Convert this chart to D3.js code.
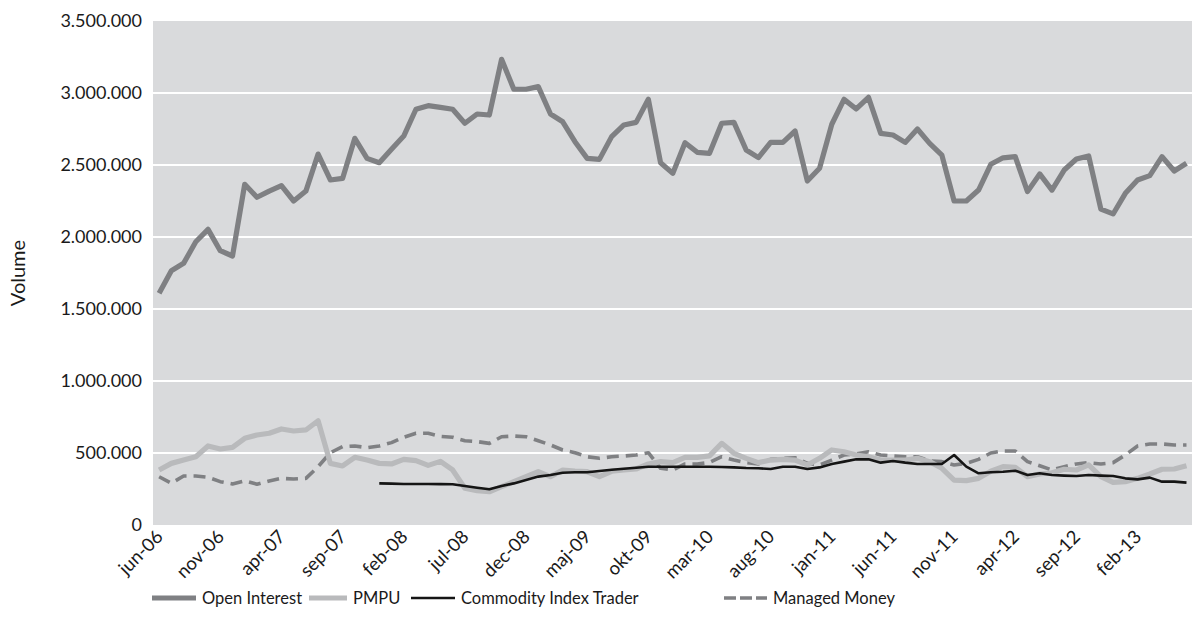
<!DOCTYPE html>
<html>
<head>
<meta charset="utf-8">
<script src="https://cdn.jsdelivr.net/npm/d3@7/dist/d3.min.js"></script>
<style>
  html, body { margin: 0; padding: 0; background: #ffffff; }
  svg { display: block; }
  text { font-family: Lato, "Open Sans", sans-serif; fill: #1a1a1a; }
</style>
</head>
<body>
<svg id="chart" width="1192" height="636"></svg>
<script>
// Monthly categories, jun-06 .. jun-13
const months = [
  "jun-06","jul-06","aug-06","sep-06","okt-06","nov-06","dec-06",
  "jan-07","feb-07","mar-07","apr-07","maj-07","jun-07","jul-07","aug-07","sep-07","okt-07","nov-07","dec-07",
  "jan-08","feb-08","mar-08","apr-08","maj-08","jun-08","jul-08","aug-08","sep-08","okt-08","nov-08","dec-08",
  "jan-09","feb-09","mar-09","apr-09","maj-09","jun-09","jul-09","aug-09","sep-09","okt-09","nov-09","dec-09",
  "jan-10","feb-10","mar-10","apr-10","maj-10","jun-10","jul-10","aug-10","sep-10","okt-10","nov-10","dec-10",
  "jan-11","feb-11","mar-11","apr-11","maj-11","jun-11","jul-11","aug-11","sep-11","okt-11","nov-11","dec-11",
  "jan-12","feb-12","mar-12","apr-12","maj-12","jun-12","jul-12","aug-12","sep-12","okt-12","nov-12","dec-12",
  "jan-13","feb-13","mar-13","apr-13","maj-13","jun-13"
];

// Labelled categories on the x axis (every fifth month)
const xTickLabels = ["jun-06","nov-06","apr-07","sep-07","feb-08","jul-08","dec-08","maj-09","okt-09",
  "mar-10","aug-10","jan-11","jun-11","nov-11","apr-12","sep-12","feb-13"];

// Y axis ticks
const yTicks = [0, 500000, 1000000, 1500000, 2000000, 2500000, 3000000, 3500000];

// Series (contracts)
const openInterest = [
  1609000,1766000,1817000,1967000,2053000,1905000,1868000,2366000,2276000,2319000,
  2356000,2250000,2319000,2576000,2396000,2407000,2685000,2546000,2516000,2609000,
  2701000,2887000,2912000,2900000,2887000,2790000,2854000,2847000,3234000,3026000,
  3026000,3044000,2854000,2800000,2662000,2546000,2539000,2697000,2778000,2796000,
  2956000,2516000,2442000,2655000,2588000,2581000,2790000,2796000,2604000,2551000,
  2657000,2657000,2736000,2389000,2477000,2783000,2956000,2889000,2970000,2720000,
  2708000,2657000,2750000,2650000,2569000,2250000,2250000,2326000,2505000,2550000,
  2558000,2315000,2438000,2326000,2465000,2542000,2563000,2194000,2160000,2303000,
  2396000,2426000,2558000,2458000,2512000
];

const pmpu = [
  382000,428000,451000,474000,549000,528000,539000,602000,625000,637000,
  667000,653000,660000,724000,428000,410000,470000,451000,428000,424000,
  456000,447000,414000,442000,382000,255000,238000,231000,266000,301000,
  336000,370000,336000,382000,375000,370000,336000,373000,382000,389000,
  424000,440000,433000,470000,470000,480000,567000,498000,463000,433000,
  451000,456000,451000,417000,463000,521000,509000,486000,474000,451000,
  451000,451000,463000,440000,394000,312000,308000,324000,374000,405000,
  400000,336000,354000,363000,387000,382000,417000,336000,296000,301000,
  324000,354000,387000,389000,412000
];

const commodityIndexTrader = [
  null,null,null,null,null,null,null,null,null,null,
  null,null,null,null,null,null,null,null,289000,287000,
  285000,285000,285000,284000,283000,271000,259000,248000,271000,289000,
  312000,336000,347000,363000,366000,366000,375000,384000,391000,398000,
  405000,405000,405000,405000,405000,405000,403000,400000,396000,394000,
  389000,405000,405000,389000,400000,424000,440000,456000,456000,433000,
  444000,433000,424000,424000,424000,486000,405000,359000,366000,370000,
  377000,347000,359000,347000,343000,340000,347000,343000,340000,324000,
  317000,329000,301000,301000,294000
];

const managedMoney = [
  335000,290000,340000,340000,331000,301000,285000,306000,283000,306000,
  324000,319000,324000,405000,502000,544000,549000,537000,549000,572000,
  609000,637000,637000,615000,609000,585000,579000,567000,613000,618000,
  613000,585000,556000,521000,502000,474000,463000,474000,479000,486000,
  502000,394000,382000,424000,424000,434000,474000,451000,433000,424000,
  456000,463000,467000,428000,417000,451000,486000,493000,509000,486000,
  479000,474000,474000,446000,440000,417000,428000,456000,500000,514000,
  514000,440000,412000,382000,405000,424000,433000,424000,433000,486000,
  549000,563000,563000,556000,556000
];

const seriesNames = ["Open Interest", "PMPU", "Commodity Index Trader", "Managed Money"];

const svg = d3.select("#chart");
const plot = { left: 153, top: 21, right: 1192.6, bottom: 525 };

const x = d3.scaleBand().domain(months).range([plot.left, plot.right]).paddingInner(0).paddingOuter(0);
const xc = m => x(m) + x.bandwidth() / 2;
const y = d3.scaleLinear().domain([0, 3500000]).range([plot.bottom, plot.top]);

const locale = d3.formatLocale({ decimal: ",", thousands: ".", grouping: [3], currency: ["", ""] });
const fmt = locale.format(",d");

// plot area
svg.append("rect")
  .attr("x", plot.left).attr("y", plot.top)
  .attr("width", plot.right - plot.left).attr("height", plot.bottom - plot.top)
  .attr("fill", "#d9dadc");

// horizontal gridlines
svg.append("g").selectAll("line")
  .data(yTicks.filter(d => d > 0 && d < 3500000))
  .join("line")
  .attr("x1", plot.left).attr("x2", plot.right)
  .attr("y1", d => y(d)).attr("y2", d => y(d))
  .attr("stroke", "#ffffff").attr("stroke-width", 2.2);

// y axis
const yAxis = svg.append("g")
  .attr("transform", `translate(${plot.left},0)`)
  .call(d3.axisLeft(y).tickValues(yTicks).tickFormat(fmt).tickSize(0).tickPadding(11));
yAxis.select(".domain").remove();
yAxis.selectAll("text").style("font-size", "18px").style("font-family", "Lato, sans-serif").attr("fill", "#1a1a1a");

// x axis
const xAxis = svg.append("g")
  .attr("transform", `translate(0,${plot.bottom})`)
  .call(d3.axisBottom(x).tickValues(xTickLabels).tickSize(0).tickPadding(0));
xAxis.select(".domain").remove();
xAxis.selectAll("text")
  .style("font-size", "18.5px").style("font-family", "Lato, sans-serif").attr("fill", "#1a1a1a")
  .attr("text-anchor", "end")
  .attr("dy", null).attr("y", 0)
  .attr("transform", "translate(5,13) rotate(-45)");

// y axis title
svg.append("text")
  .attr("transform", `translate(25,${(plot.top + plot.bottom) / 2}) rotate(-90)`)
  .attr("text-anchor", "middle")
  .style("font-size", "20px")
  .text("Volume");

// series lines
const styles = [
  { data: managedMoney, color: "#7f8083", width: 3.6, dash: "12,7" },
  { data: pmpu, color: "#b9babc", width: 5.2, dash: null },
  { data: commodityIndexTrader, color: "#151515", width: 2.6, dash: null },
  { data: openInterest, color: "#7f8083", width: 5.2, dash: null }
];

const line = d3.line()
  .defined(d => d.v !== null)
  .x(d => xc(d.m))
  .y(d => y(d.v));

svg.append("g").selectAll("path")
  .data(styles)
  .join("path")
  .attr("d", s => line(months.map((m, i) => ({ m, v: s.data[i] }))))
  .attr("fill", "none")
  .attr("stroke", s => s.color)
  .attr("stroke-width", s => s.width)
  .attr("stroke-dasharray", s => s.dash)
  .attr("stroke-linejoin", "round");

// legend
const legendItems = [
  { name: seriesNames[0], color: "#7f8083", width: 5, dash: null, x: 152, tx: 202 },
  { name: seriesNames[1], color: "#b9babc", width: 5, dash: null, x: 309, tx: 353 },
  { name: seriesNames[2], color: "#151515", width: 2.6, dash: null, x: 411, tx: 461 },
  { name: seriesNames[3], color: "#7f8083", width: 3.6, dash: "12,4", x: 724, tx: 773 }
];
const legendY = 598;
const lg = svg.append("g").selectAll("g").data(legendItems).join("g")
  .attr("transform", d => `translate(${d.x},${legendY})`);
lg.append("line")
  .attr("x1", 0).attr("x2", d => d.tx - d.x - 6).attr("y1", 0).attr("y2", 0)
  .attr("stroke", d => d.color).attr("stroke-width", d => d.width)
  .attr("stroke-dasharray", d => d.dash);
lg.append("text")
  .attr("x", d => d.tx - d.x).attr("y", 0).attr("dy", "0.35em")
  .style("font-size", "16.5px")
  .text(d => d.name);
</script>
</body>
</html>
